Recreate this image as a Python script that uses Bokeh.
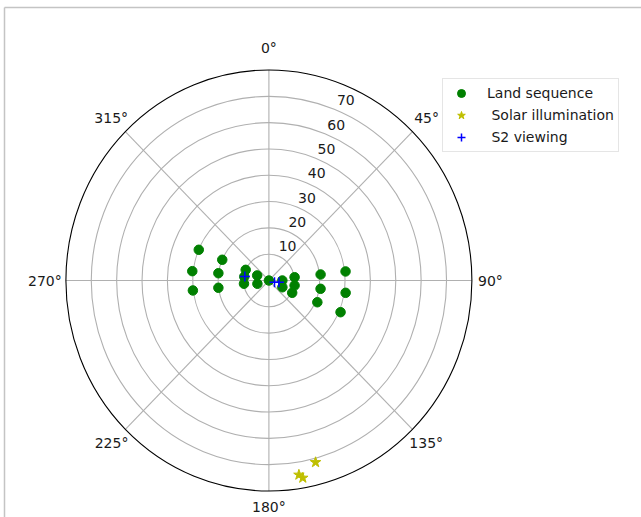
import numpy as np
from bokeh.plotting import figure
from bokeh.models import Range1d, Legend, LegendItem
from bokeh.core.properties import value
from bokeh.embed import file_html
from bokeh.resources import INLINE

# Azimuth (deg, clockwise from north) and zenith (deg) of each observation
land_azimuth = [292.9, 293.2, 276.7, 277.9, 262.8, 262.1, 293.9, 278.5, 262.8, 292.6, 254.7,
                0.0, 90.0, 115.8, 83.0, 100.6, 117.0, 83.6, 98.8, 113.4, 83.5, 98.8, 113.1]
land_zenith = [30.0, 20.0, 30.4, 20.1, 30.2, 20.1, 10.0, 9.8, 9.9, 5.0, 4.7,
               0.0, 5.3, 5.9, 10.2, 10.3, 10.3, 20.5, 20.6, 20.8, 30.4, 30.6, 30.7]

solar_azimuth = [165.1, 170.9, 169.9]
solar_zenith = [71.5, 74.8, 76.2]

s2_azimuth = [279.1, 106.1, 99.4]
s2_zenith = [9.6, 2.3, 4.0]

theta_ticks = [0, 45, 90, 135, 180, 225, 270, 315]
theta_labels = ["0°", "45°", "90°", "135°", "180°", "225°", "270°", "315°"]
r_ticks = [10, 20, 30, 40, 50, 60, 70]
r_labels = ["10", "20", "30", "40", "50", "60", "70"]
r_max = 80

W, H = 641, 517
cx, cy = 268.4, 280.0        # pole position on the canvas, px
rx_px, ry_px = 203.0, 210.5  # outer ring half-width / half-height, px
sx, sy = rx_px / r_max, ry_px / r_max

FONT_NAME = "DejaVu Sans"
FONT = value(FONT_NAME)


def to_xy(az, zen):
    a = np.radians(np.asarray(az, dtype=float))
    z = np.asarray(zen, dtype=float)
    return z * np.sin(a), z * np.cos(a)


def px(xp, yp):
    return (xp - cx) / sx, (cy - yp) / sy


p = figure(width=W, height=H, output_backend="svg", toolbar_location=None,
           x_range=Range1d(-cx / sx, (W - cx) / sx),
           y_range=Range1d(-(H - cy) / sy, cy / sy),
           min_border=0, outline_line_color=None)
p.axis.visible = False
p.grid.visible = False
p.background_fill_color = "white"

# page frame lines
x0, y0 = px(4, 7)
x1, _ = px(W, 7)
_, y1 = px(4, H)
p.segment(x0=[x0, x0], y0=[y0, y0], x1=[x1, x0], y1=[y0, y1],
          line_color="#c4c4c4", line_width=1.5)

# grid: rings and spokes
n = len(r_ticks)
p.ellipse(x=[0] * n, y=[0] * n, width=[2 * r for r in r_ticks], height=[2 * r for r in r_ticks],
          fill_color=None, line_color="#b0b0b0", line_width=1.1)
ex, ey = to_xy(theta_ticks, [r_max] * len(theta_ticks))
p.segment(x0=[0] * len(theta_ticks), y0=[0] * len(theta_ticks), x1=ex, y1=ey,
          line_color="#b0b0b0", line_width=1.1)
p.ellipse(x=[0], y=[0], width=[2 * r_max], height=[2 * r_max],
          fill_color=None, line_color="black", line_width=1.1)

# angle labels, a small pixel gap outside the outer ring
pads = np.array([22.0, 20.0, 18.5, 19.5, 16.0, 19.5, 21.0, 20.0])
a = np.radians(theta_ticks)
tx = (rx_px + pads) * np.sin(a) / sx
ty = (ry_px + pads) * np.cos(a) / sy
p.text(x=tx, y=ty, text=theta_labels, text_align="center", text_baseline="middle",
       text_font=FONT, text_font_size="14px", text_color="#1a1a1a")

# radius labels along 22.5 deg
lrx, lry = to_xy([22.5] * n, r_ticks)
p.text(x=lrx, y=lry, text=r_labels, text_align="center", text_baseline="middle",
       x_offset=9, y_offset=-10,
       text_font=FONT, text_font_size="14px", text_color="#1a1a1a")

# observations
lx, ly = to_xy(land_azimuth, land_zenith)
land = p.scatter(x=lx, y=ly, marker="circle", size=9.5, fill_color="#008000", line_color="#008000")
ox, oy = to_xy(solar_azimuth, solar_zenith)
solar = p.scatter(x=ox, y=oy, marker="star", size=11, fill_color="#bfbf00", line_color="#bfbf00")
vx, vy = to_xy(s2_azimuth, s2_zenith)
s2 = p.scatter(x=vx, y=vy, marker="cross", size=10, line_color="#0000ff", line_width=1.5)

legend = Legend(items=[LegendItem(label="Land sequence", renderers=[land]),
                       LegendItem(label=" Solar illumination", renderers=[solar]),
                       LegendItem(label=" S2 viewing", renderers=[s2])],
                location=(442, H - 152), orientation="vertical",
                padding=4, margin=0, spacing=2, glyph_width=28, glyph_height=20,
                label_height=20, label_standoff=12,
                label_text_font=FONT_NAME, label_text_font_size="14px", label_text_color="#1a1a1a",
                border_line_color="#cccccc", border_line_width=1,
                background_fill_alpha=0.8)
p.add_layout(legend, "center")

open("out.html", "w").write(file_html(p, INLINE))
